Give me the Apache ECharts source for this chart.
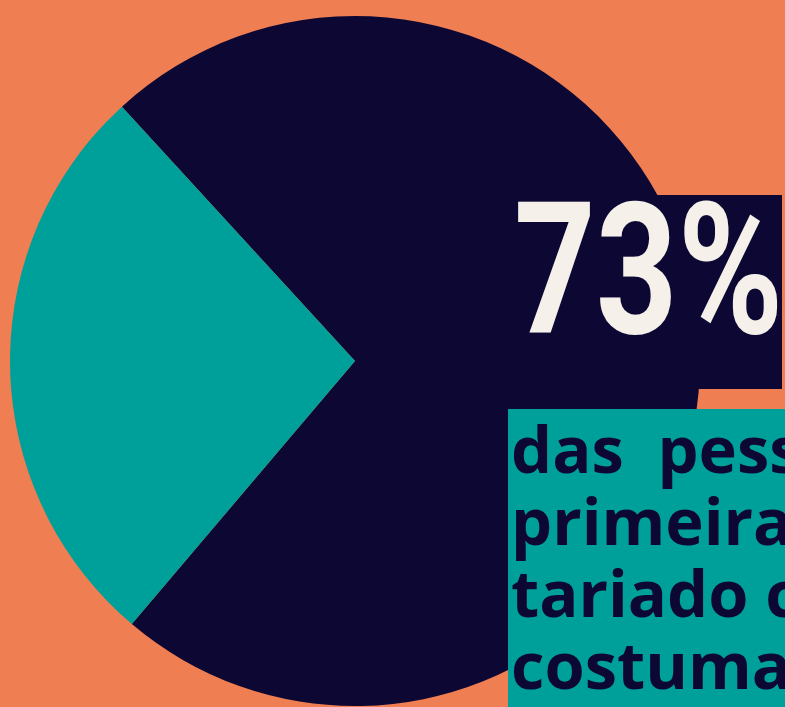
<!DOCTYPE html>
<html><head><meta charset="utf-8">
<script src="https://cdn.jsdelivr.net/npm/echarts@6/dist/echarts.min.js"></script>
<style>html,body{margin:0;padding:0;background:#EF7E52}#c{width:785px;height:707px}</style>
</head><body><div id="c"></div>
<script>
var categories = ['Sim', 'Não'];
var values = [73, 27];
var colors = ['#0D0833', '#00A09A'];
var captionLines = ['das  pessoas', 'primeira vez', 'tariado com', 'costumam'];

var chart = echarts.init(document.getElementById('c'), null, {renderer: 'canvas'});
chart.setOption({
  backgroundColor: '#EF7E52',
  animation: false,
  series: [{
    type: 'pie',
    center: [355, 361],
    radius: [0, 345],
    startAngle: 132.5,
    clockwise: true,
    label: {show: false},
    labelLine: {show: false},
    emphasis: {disabled: true},
    data: categories.map(function (c, i) {
      return {name: c, value: values[i], itemStyle: {color: colors[i]}};
    })
  }],
  graphic: [
    {type: 'rect', shape: {x: 505, y: 195, width: 277, height: 194}, style: {fill: '#0D0833'}, z: 10},
    {type: 'text', x: 514, y: 287, scaleX: 0.775, z: 11,
      style: {text: values[0] + '%', fill: '#F5F1EA', font: 'bold 184px Roboto', align: 'left', verticalAlign: 'middle'}},
    {type: 'rect', shape: {x: 508, y: 409, width: 300, height: 320}, style: {fill: '#00A09A'}, z: 10},
    {type: 'text', x: 511, y: 418, z: 11,
      style: {text: captionLines.join('\n'), fill: '#0D0833', font: 'bold 65px "Open Sans"', lineHeight: 72, align: 'left', verticalAlign: 'top'}}
  ]
});
</script></body></html>
